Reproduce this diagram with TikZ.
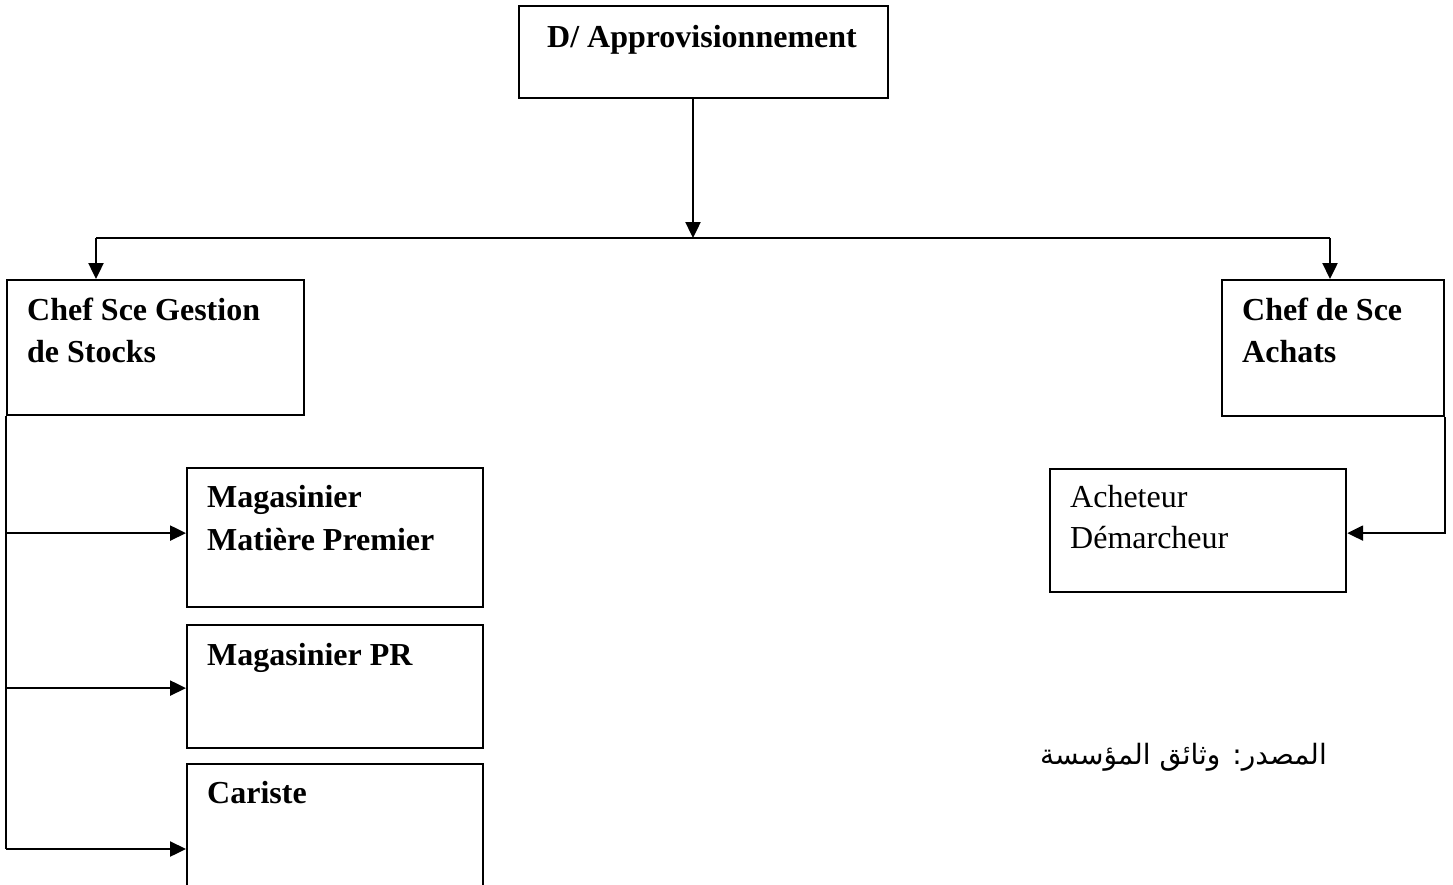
\documentclass[tikz,border=0pt]{standalone}
\usepackage{fontspec}
\setmainfont{Liberation Serif}
\newfontfamily\arabicfont[Script=Arabic]{DejaVu Sans}
\TeXXeTstate=1
\usetikzlibrary{arrows.meta}
\begin{document}
\begin{tikzpicture}[x=1pt,y=-1pt,
  box/.style={draw, line width=2.2pt, anchor=north west, inner sep=0pt},
  lbl/.style={anchor=base west, inner sep=0pt, font=\fontsize{32}{42}\selectfont\bfseries},
  lblr/.style={anchor=base west, inner sep=0pt, font=\fontsize{32}{42}\selectfont},
  link/.style={line width=2.4pt},
  arr/.style={line width=2.4pt, -{Triangle[length=16pt,width=15pt]}}]
\useasboundingbox (0,0) rectangle (1453,884);
\clip (0,0) rectangle (1453,884);
% boxes
\node[box, minimum width=369pt, minimum height=92pt]  (dir) at (518,5) {};
\node[box, minimum width=297pt, minimum height=135pt] (gs)  at (6,279) {};
\node[box, minimum width=222pt, minimum height=136pt] (ac)  at (1221,279) {};
\node[box, minimum width=296pt, minimum height=139pt] (mmp) at (186,467) {};
\node[box, minimum width=296pt, minimum height=123pt] (pr)  at (186,624) {};
\node[box, minimum width=296pt, minimum height=172pt] (car) at (186,763) {};
\node[box, minimum width=296pt, minimum height=123pt] (ach) at (1049,468) {};
% box texts
\node[lbl, anchor=base] (tdir) at (702,47) {D/ Approvisionnement};
\node[lbl] (tgs1) at (27,320) {Chef Sce Gestion};
\node[lbl] (tgs2) at (27,362) {de Stocks};
\node[lbl] (tac1) at (1242,320) {Chef de Sce};
\node[lbl] (tac2) at (1242,362) {Achats};
\node[lbl] (tmmp1) at (207,507) {Magasinier};
\node[lbl] (tmmp2) at (207,550) {Matière Premier};
\node[lbl] (tpr) at (207,665) {Magasinier PR};
\node[lbl] (tcar) at (207,803) {Cariste};
\node[lblr] (tach1) at (1070,507) {Acheteur};
\node[lblr] (tach2) at (1070,548) {Démarcheur};
% source note
\node[anchor=base east, inner sep=0pt, font=\arabicfont\fontsize{28}{34}\selectfont] (src) at (1327,764) {\beginR المصدر: وثائق المؤسسة\endR};
% connectors
\coordinate (hub) at (693,238);
\coordinate (hubL) at (96,238);
\coordinate (hubR) at (1330,238);
\draw[arr] (dir.south -| hub) -- (hub);
\draw[link] (hubL) -- (hubR);
\draw[arr] (hubL) -- (hubL |- gs.north);
\draw[arr] (hubR) -- (hubR |- ac.north);
\coordinate (trunk) at (6,849);
\coordinate (mmpIn) at ([yshift=4.5pt]mmp.west);
\coordinate (prIn) at ([yshift=-1.5pt]pr.west);
\coordinate (achIn) at ([yshift=-2.5pt]ach.east);
\draw[link] (gs.south west) -- (trunk);
\draw[arr] (trunk |- mmpIn) -- (mmpIn);
\draw[arr] (trunk |- prIn) -- (prIn);
\draw[arr] (trunk) -- (trunk -| car.west);
\draw[arr] (ac.south east) |- (achIn);
\end{tikzpicture}
\end{document}
